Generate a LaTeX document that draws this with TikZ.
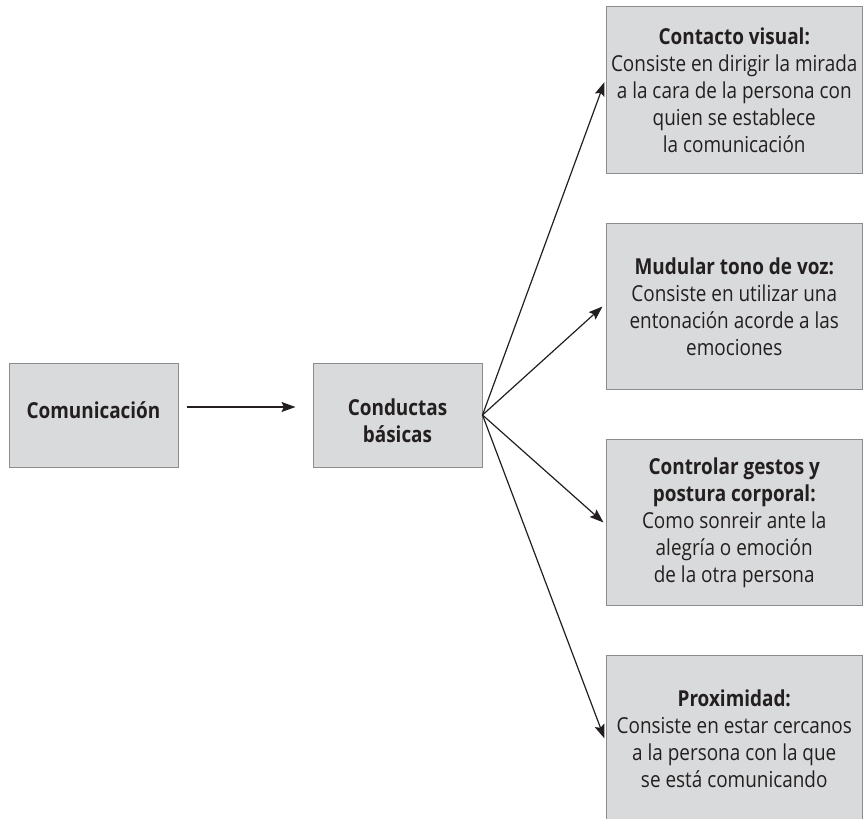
\documentclass[tikz,border=0pt]{standalone}
\usepackage{fontspec}
\setmainfont{Open Sans}[FakeStretch=0.86]
\usetikzlibrary{arrows.meta,calc}
\definecolor{boxfill}{HTML}{D9DADB}
\definecolor{boxline}{HTML}{8C8C8C}
\definecolor{ink}{HTML}{231F20}
\tikzset{
  box/.style={draw=boxline, fill=boxfill, line width=1pt, inner sep=0pt, align=center, text=ink,
    font=\fontsize{22}{27}\selectfont},
  smallbox/.style={box, minimum width=169pt, minimum height=104pt},
  bigbox/.style={box, minimum width=256.5pt, minimum height=166.5pt},
  conn/.style={draw=ink, line width=1.2pt, -{Stealth[length=14pt,width=10pt,inset=2.5pt]}}
}
\begin{document}
\begin{tikzpicture}[x=1pt,y=-1pt]
\useasboundingbox (0,0) rectangle (863,819);
\clip (0,0) rectangle (863,819);
\node[smallbox] (com) at (93.5,415) {};
\node[text=ink, font=\fontsize{22}{27}\selectfont\bfseries] (comt) at (93.5,410) {Comunicación};
\node[smallbox] (cond) at (397.5,415) {};
\node[text=ink, align=center, font=\fontsize{22}{27}\selectfont\bfseries] (condt) at (397.5,421) {Conductas\\básicas};
\node[bigbox] (vis) at (734.25,90) {\textbf{Contacto visual:}\\Consiste en dirigir la mirada\\a la cara de la persona con\\quien se establece\\la comunicación};
\node[bigbox] (voz) at (734.25,306.5) {\textbf{Mudular tono de voz:}\\Consiste en utilizar una\\entonación acorde a las\\emociones};
\node[bigbox] (ges) at (734.25,522.5) {\textbf{Controlar gestos y}\\\textbf{postura corporal:}\\Como sonreir ante la\\alegría o emoción\\de la otra persona};
\node[bigbox] (prox) at (734.25,738.5) {\textbf{Proximidad:}\\Consiste en estar cercanos\\a la persona con la que\\se está comunicando};
\draw[conn] ([xshift=8pt,yshift=8pt]com.east) -- ([xshift=-17pt,yshift=8pt]cond.west);
\draw[conn] (cond.east) -- ([xshift=-1pt,yshift=8pt]vis.west);
\draw[conn] (cond.east) -- ([xshift=-3pt]voz.west);
\draw[conn] (cond.east) -- ([xshift=-2pt]ges.west);
\draw[conn] (cond.east) -- ([xshift=-1pt]prox.west);
\end{tikzpicture}
\end{document}
